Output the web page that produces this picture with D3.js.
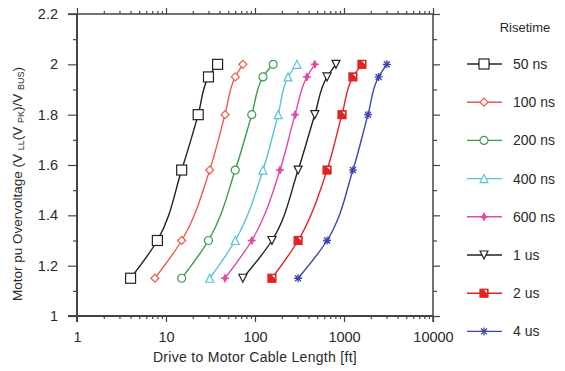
<!DOCTYPE html>
<html>
<head>
<meta charset="utf-8">
<script src="https://cdn.jsdelivr.net/npm/d3@7"></script>
<style>
  body { margin: 0; background: #fff; }
  text { font-family: "Liberation Sans", Arial, sans-serif; fill: #2a2a2a; }
</style>
</head>
<body>
<div id="chart"></div>
<script>
// Overvoltage levels shared by every risetime curve
var voltages = [1.15, 1.3, 1.58, 1.8, 1.95, 2.0];

// Cable length (ft) at each voltage level, one list per risetime
var risetimes = ["50 ns", "100 ns", "200 ns", "400 ns", "600 ns", "1 us", "2 us", "4 us"];
var len50ns  = [4, 8, 15, 23, 30, 38];
var len100ns = [7.5, 15, 31, 46, 60, 73];
var len200ns = [15, 30, 60, 92, 123, 160];
var len400ns = [31, 60, 123, 182, 235, 296];
var len600ns = [46, 92, 191, 282, 383, 470];
var len1us   = [73, 155, 305, 470, 645, 813];
var len2us   = [155, 305, 645, 950, 1260, 1590];
var len4us   = [305, 645, 1260, 1860, 2450, 3030];
var lengths = [len50ns, len100ns, len200ns, len400ns, len600ns, len1us, len2us, len4us];

var colors  = ["#222222", "#ee5a4e", "#3c9a4c", "#58c4d6", "#e04aa6", "#222222", "#e02424", "#3d45b0"];
var markers = ["square", "diamond", "circle", "triangle", "plus", "tridown", "halfsquare", "asterisk"];

var yTicks = [1, 1.2, 1.4, 1.6, 1.8, 2, 2.2];
var xTicks = [1, 10, 100, 1000, 10000];

var width = 565, height = 371;
var svg = d3.select("#chart").append("svg")
    .attr("width", width)
    .attr("height", height);

var x = d3.scaleLog().domain([1, 10000]).range([77, 433]);
var y = d3.scaleLinear().domain([1, 2.2]).range([316, 14]);

var axisColor = "#444";

// minor ticks
var xMinor = [];
xTicks.slice(0, -1).forEach(function(t) {
    for (var k = 2; k <= 9; k++) xMinor.push(t * k);
});
var yMinor = d3.range(1.1, 2.2, 0.2);

// axes (ticks point outward on all four sides)
svg.append("g").attr("transform", "translate(0,316)")
    .call(d3.axisBottom(x).tickValues(xTicks).tickFormat(d3.format("d")).tickSize(6).tickPadding(10));
svg.append("g").attr("transform", "translate(0,316)")
    .call(d3.axisBottom(x).tickValues(xMinor).tickFormat("").tickSize(3));
svg.append("g").attr("transform", "translate(0,14)")
    .call(d3.axisTop(x).tickValues(xTicks).tickFormat("").tickSize(6));
svg.append("g").attr("transform", "translate(0,14)")
    .call(d3.axisTop(x).tickValues(xMinor).tickFormat("").tickSize(3));
svg.append("g").attr("transform", "translate(77,0)")
    .call(d3.axisLeft(y).tickValues(yTicks).tickFormat(d3.format("")).tickSize(9).tickPadding(10));
svg.append("g").attr("transform", "translate(77,0)")
    .call(d3.axisLeft(y).tickValues(yMinor).tickFormat("").tickSize(4));
svg.append("g").attr("transform", "translate(433,0)")
    .call(d3.axisRight(y).tickValues(yTicks).tickFormat("").tickSize(7));
svg.append("g").attr("transform", "translate(433,0)")
    .call(d3.axisRight(y).tickValues(yMinor).tickFormat("").tickSize(4));

svg.selectAll(".domain").remove();
svg.selectAll(".tick line").attr("stroke", axisColor).attr("stroke-width", 1.2);
svg.selectAll(".tick text").attr("font-size", 14.5).attr("fill", "#2a2a2a")
    .attr("font-family", "Liberation Sans, Arial, sans-serif");

// frame lines; left/bottom heavier
svg.append("line").attr("x1", 68).attr("x2", 433).attr("y1", 316).attr("y2", 316)
    .attr("stroke", axisColor).attr("stroke-width", 2);
svg.append("line").attr("x1", 68).attr("x2", 433).attr("y1", 14).attr("y2", 14)
    .attr("stroke", axisColor).attr("stroke-width", 1.5);
svg.append("line").attr("x1", 77).attr("x2", 77).attr("y1", 14).attr("y2", 322)
    .attr("stroke", axisColor).attr("stroke-width", 2);
svg.append("line").attr("x1", 433).attr("x2", 433).attr("y1", 14).attr("y2", 322)
    .attr("stroke", axisColor).attr("stroke-width", 1.5);

// axis titles
svg.append("text")
    .attr("x", 255).attr("y", 362)
    .attr("text-anchor", "middle")
    .attr("font-size", 14)
    .attr("letter-spacing", 0.3)
    .text("Drive to Motor Cable Length [ft]");

var yl = svg.append("text")
    .attr("transform", "translate(22,184) rotate(-90)")
    .attr("text-anchor", "middle")
    .attr("font-size", 13.5);
yl.append("tspan").text("Motor pu Overvoltage (V ");
yl.append("tspan").attr("font-size", 9).attr("dy", 2).text("LL");
yl.append("tspan").attr("dy", -2).text("(V ");
yl.append("tspan").attr("font-size", 9).attr("dy", 2).text("PK");
yl.append("tspan").attr("dy", -2).text(")/V ");
yl.append("tspan").attr("font-size", 9).attr("dy", 2).text("BUS");
yl.append("tspan").attr("dy", -2).text(")");

// marker drawing
function drawMarker(g, type, color, s) {
    var h = s / 2;
    if (type === "square") {
        g.append("rect").attr("x", -h).attr("y", -h).attr("width", s).attr("height", s)
            .attr("fill", "#fff").attr("stroke", color).attr("stroke-width", 1.2);
    } else if (type === "halfsquare") {
        g.append("rect").attr("x", -h).attr("y", -h).attr("width", s).attr("height", s)
            .attr("fill", color).attr("stroke", color).attr("stroke-width", 1.2);
        g.append("path").attr("d", "M" + (h - 1) + "," + (-h + 1) + "L" + (h - 1) + "," + (-h + 4) + "L" + (h - 4) + "," + (-h + 1) + "Z")
            .attr("fill", "#fff");
    } else if (type === "diamond") {
        g.append("path").attr("d", "M0," + (-h) + "L" + h + ",0L0," + h + "L" + (-h) + ",0Z")
            .attr("fill", "#fff").attr("stroke", color).attr("stroke-width", 1.2);
    } else if (type === "circle") {
        g.append("circle").attr("r", h)
            .attr("fill", "#fff").attr("stroke", color).attr("stroke-width", 1.2);
    } else if (type === "triangle") {
        g.append("path").attr("d", "M0," + (-h) + "L" + h + "," + h + "L" + (-h) + "," + h + "Z")
            .attr("fill", "#fff").attr("stroke", color).attr("stroke-width", 1.2);
    } else if (type === "tridown") {
        g.append("path").attr("d", "M0," + h + "L" + h + "," + (-h) + "L" + (-h) + "," + (-h) + "Z")
            .attr("fill", "#fff").attr("stroke", color).attr("stroke-width", 1.2);
    } else if (type === "plus") {
        g.append("path").attr("d", "M0," + (-h) + "L2,0L0," + h + "L-2,0Z")
            .attr("fill", color).attr("stroke", color).attr("stroke-width", 1);
        g.append("path").attr("d", "M" + (-h) + ",0H" + h)
            .attr("stroke", color).attr("stroke-width", 1.5);
    } else if (type === "asterisk") {
        g.append("path").attr("d", "M0," + (-h) + "V" + h + "M" + (-h) + ",0H" + h +
                "M" + (-h * 0.75) + "," + (-h * 0.75) + "L" + (h * 0.75) + "," + (h * 0.75) +
                "M" + (h * 0.75) + "," + (-h * 0.75) + "L" + (-h * 0.75) + "," + (h * 0.75))
            .attr("stroke", color).attr("stroke-width", 1.3).attr("fill", "none");
    }
}

var line = d3.line()
    .x(function(d) { return x(d[0]); })
    .y(function(d) { return y(d[1]); })
    .curve(d3.curveMonotoneY);

var plot = svg.append("g");
risetimes.forEach(function(name, i) {
    var pts = lengths[i].map(function(v, j) { return [v, voltages[j]]; });
    plot.append("path")
        .attr("d", line(pts))
        .attr("fill", "none")
        .attr("stroke", colors[i])
        .attr("stroke-width", 1.4);
    var size = i === 0 ? 10 : 8;
    pts.forEach(function(p) {
        var g = plot.append("g").attr("transform", "translate(" + x(p[0]) + "," + y(p[1]) + ")");
        drawMarker(g, markers[i], colors[i], size);
    });
});

// legend
svg.append("text")
    .attr("x", 525).attr("y", 32)
    .attr("text-anchor", "middle")
    .attr("font-size", 13)
    .text("Risetime");

var legend = svg.append("g");
risetimes.forEach(function(name, i) {
    var ly = 64 + i * 38.2;
    legend.append("line")
        .attr("x1", 467).attr("x2", 502).attr("y1", ly).attr("y2", ly)
        .attr("stroke", colors[i]).attr("stroke-width", 1.4);
    var g = legend.append("g").attr("transform", "translate(484," + ly + ")");
    drawMarker(g, markers[i], colors[i], i === 0 ? 10 : 8);
    legend.append("text")
        .attr("x", 513).attr("y", ly + 5)
        .attr("font-size", 14)
        .text(name);
});
</script>
</body>
</html>
